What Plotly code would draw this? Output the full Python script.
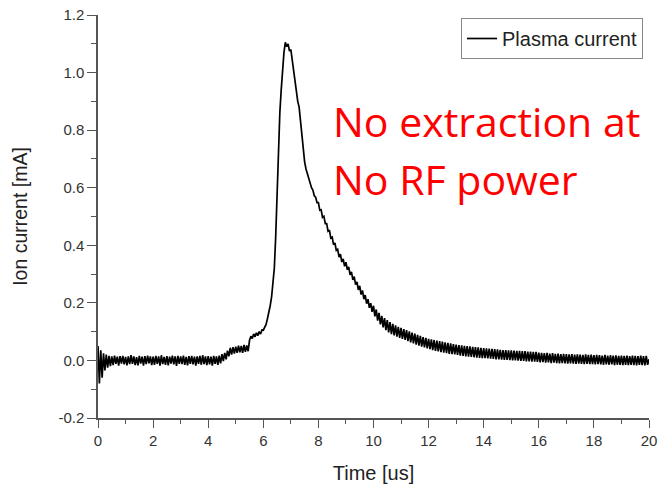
import plotly.graph_objects as go

# sampling grid (us), 0.05 us step
time_us = [round(i * 0.05, 2) for i in range(401)]

# ion current [mA] (one value per 0.05 us)
current_ma = [
    # 0.00 - 4.45 us : baseline
    0.05, -0.08, 0.035, -0.06, 0.025, -0.035, 0.02, -0.025, 0.016, -0.02,
    0.014, -0.016, 0.017, -0.012, 0.013, -0.018, 0.015, -0.011, 0.016, -0.014,
    0.012, -0.017, 0.014, -0.013, 0.018, -0.012, 0.014, -0.016, 0.011, -0.017,
    0.016, -0.011, 0.013, -0.018, 0.015, -0.013, 0.017, -0.01, 0.014, -0.016,
    0.013, -0.015, 0.016, -0.012, 0.014, -0.018, 0.018, -0.013, 0.012, -0.015,
    0.015, -0.017, 0.013, -0.011, 0.017, -0.014, 0.014, -0.019, 0.016, -0.012,
    0.014, -0.013, 0.017, -0.015, 0.012, -0.017, 0.015, -0.012, 0.016, -0.014,
    0.013, -0.018, 0.014, -0.012, 0.016, -0.015, 0.018, -0.013, 0.014, -0.016,
    0.015, -0.014, 0.013, -0.018, 0.016, -0.012, 0.014, -0.015, 0.017, -0.01,
    # 4.50 - 5.95 us : pre-rise
    0.022, -0.002, 0.026, 0.004, 0.034, 0.014, 0.044, 0.02, 0.046, 0.024,
    0.048, 0.026, 0.051, 0.028, 0.05, 0.026, 0.054, 0.03, 0.052, 0.032,
    0.07, 0.084, 0.076, 0.092, 0.082, 0.096, 0.086, 0.1, 0.092, 0.106,
    # 6.00 - 7.95 us : peak
    0.105, 0.115, 0.125, 0.145, 0.165, 0.19, 0.22, 0.26, 0.32, 0.43,
    0.60, 0.76, 0.86, 0.94, 1.01, 1.07, 1.105, 1.09, 1.10, 1.075,
    1.08, 1.04, 1.0, 0.965, 0.935, 0.90, 0.88, 0.83, 0.78, 0.73,
    0.69, 0.665, 0.648, 0.632, 0.62, 0.60, 0.592, 0.572, 0.567, 0.548,
    # 8.00 - 9.95 us : decay
    0.548, 0.522, 0.523, 0.497, 0.501, 0.475, 0.475, 0.449, 0.453, 0.425,
    0.428, 0.402, 0.408, 0.382, 0.386, 0.359, 0.369, 0.342, 0.353, 0.327,
    0.341, 0.315, 0.325, 0.297, 0.308, 0.28, 0.291, 0.263, 0.273, 0.245,
    0.259, 0.229, 0.243, 0.213, 0.227, 0.197, 0.213, 0.183, 0.199, 0.169,
    # 10.00 - 11.95 us
    0.19, 0.153, 0.177, 0.138, 0.165, 0.125, 0.155, 0.115, 0.147, 0.105,
    0.14, 0.097, 0.133, 0.091, 0.127, 0.087, 0.122, 0.083, 0.117, 0.078,
    0.113, 0.075, 0.109, 0.071, 0.105, 0.067, 0.101, 0.063, 0.097, 0.059,
    0.093, 0.055, 0.089, 0.051, 0.085, 0.048, 0.081, 0.045, 0.078, 0.042,
    # 12.00 - 15.95 us
    0.075, 0.039, 0.073, 0.036, 0.071, 0.033, 0.069, 0.031, 0.067, 0.029,
    0.065, 0.027, 0.063, 0.025, 0.061, 0.023, 0.059, 0.022, 0.057, 0.021,
    0.055, 0.019, 0.053, 0.017, 0.052, 0.016, 0.051, 0.014, 0.05, 0.013,
    0.049, 0.012, 0.047, 0.011, 0.046, 0.01, 0.045, 0.009, 0.044, 0.008,
    0.043, 0.008, 0.042, 0.007, 0.041, 0.006, 0.04, 0.005, 0.039, 0.004,
    0.038, 0.004, 0.037, 0.003, 0.036, 0.002, 0.036, 0.002, 0.035, 0.001,
    0.035, 0.0, 0.034, 0.0, 0.033, -0.001, 0.033, -0.002, 0.032, -0.002,
    0.032, -0.003, 0.031, -0.003, 0.031, -0.004, 0.03, -0.004, 0.03, -0.005,
    # 16.00 - 20.00 us
    0.027, -0.007, 0.026, -0.006, 0.025, -0.008, 0.026, -0.007, 0.024, -0.009,
    0.025, -0.008, 0.023, -0.009, 0.024, -0.01, 0.022, -0.009, 0.023, -0.01,
    0.022, -0.011, 0.021, -0.01, 0.022, -0.011, 0.02, -0.012, 0.021, -0.011,
    0.02, -0.012, 0.019, -0.013, 0.021, -0.012, 0.019, -0.013, 0.02, -0.013,
    0.018, -0.014, 0.019, -0.013, 0.018, -0.014, 0.017, -0.015, 0.019, -0.014,
    0.017, -0.015, 0.018, -0.014, 0.017, -0.016, 0.018, -0.015, 0.016, -0.015,
    0.017, -0.016, 0.016, -0.015, 0.017, -0.016, 0.015, -0.015, 0.017, -0.016,
    0.016, -0.017, 0.015, -0.015, 0.017, -0.016, 0.015, -0.017, 0.016, -0.015,
    0.004,
]
assert len(current_ma) == len(time_us)

x_ticks = [0, 2, 4, 6, 8, 10, 12, 14, 16, 18, 20]
y_ticks = [-0.2, 0.0, 0.2, 0.4, 0.6, 0.8, 1.0, 1.2]

series_name = "Plasma current"
note_lines = ["No extraction at", "No RF power"]

W, H = 658, 487
L, R, T, B = 98, 9, 15, 69
pw, ph = W - L - R, H - T - B

def px_x(px):
    return (px - L) / pw

def px_y(py):
    return (H - B - py) / ph

fig = go.Figure()
fig.add_trace(go.Scatter(
    x=time_us, y=current_ma, mode="lines", name=series_name,
    line=dict(color="black", width=1.7),
))

FONT = "Liberation Sans, Arial, sans-serif"
tick_font = dict(family=FONT, size=15, color="#333333")
axis_common = dict(
    showline=True, linecolor="#555555", linewidth=1.5,
    ticks="outside", tickwidth=1.4, tickcolor="#555555",
    showgrid=False, zeroline=False, tickfont=tick_font,
    mirror=False, automargin=False,
)

fig.update_xaxes(
    range=[0, 20], tickvals=x_ticks, ticktext=[str(v) for v in x_ticks], ticklen=8,
    minor=dict(dtick=1, ticklen=4, tickcolor="#555555", ticks="outside", tickwidth=1.2),
    title=dict(text="Time [us]", font=dict(family=FONT, size=20, color="#222222"), standoff=18),
    **axis_common,
)
fig.update_yaxes(
    range=[-0.2, 1.2], tickvals=y_ticks, ticktext=[f"{v:.1f}" for v in y_ticks], ticklen=9,
    minor=dict(dtick=0.1, ticklen=5, tickcolor="#555555", ticks="outside", tickwidth=1.2),
    title=dict(text="Ion current [mA]", font=dict(family=FONT, size=19.5, color="#222222"), standoff=26),
    **axis_common,
)

fig.add_annotation(
    xref="paper", yref="paper", x=px_x(331), y=px_y(121),
    xanchor="left", yanchor="middle", showarrow=False,
    text=note_lines[0], font=dict(family="Open Sans", size=41, color="#ff0000"),
)
fig.add_annotation(
    xref="paper", yref="paper", x=px_x(331), y=px_y(179),
    xanchor="left", yanchor="middle", showarrow=False,
    text=note_lines[1], font=dict(family="Open Sans", size=41, color="#ff0000"),
)

fig.update_layout(
    width=W, height=H,
    margin=dict(l=L, r=R, t=T, b=B),
    paper_bgcolor="white", plot_bgcolor="white",
    showlegend=True,
    legend=dict(
        x=px_x(643), y=px_y(18), xanchor="right", yanchor="top",
        bordercolor="#888888", borderwidth=1, bgcolor="white",
        font=dict(family=FONT, size=20, color="#222222"),
        tracegroupgap=0, itemwidth=30,
    ),
)

fig.write_html("out.html")
